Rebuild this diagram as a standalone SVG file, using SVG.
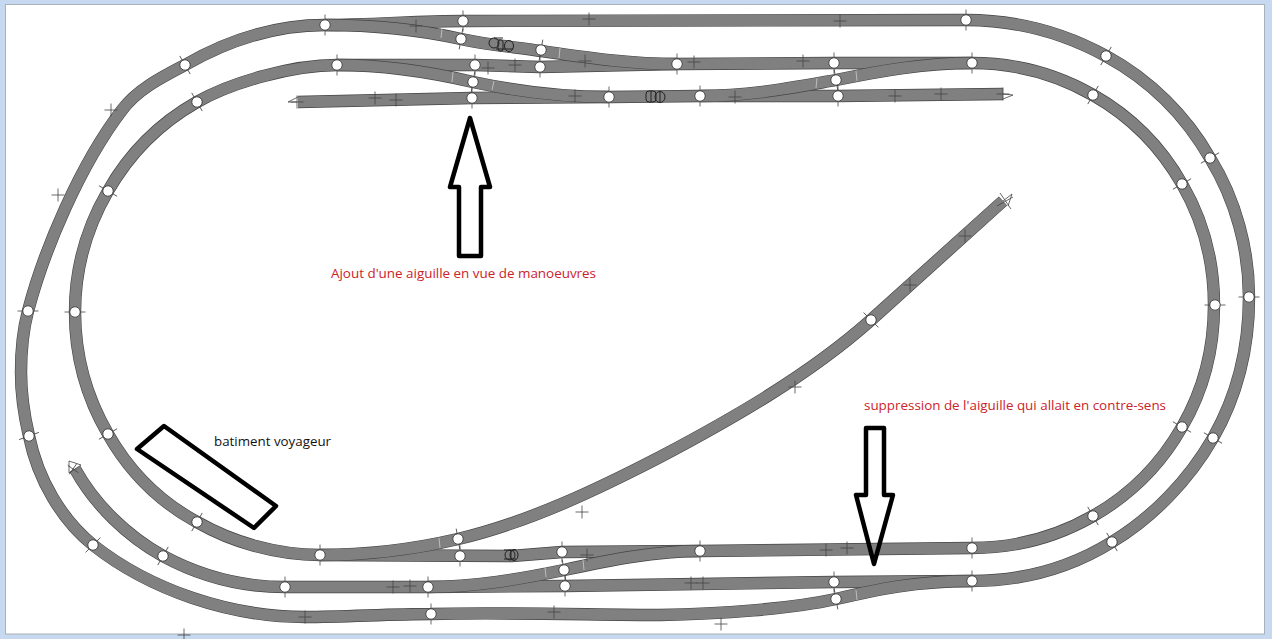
<svg xmlns="http://www.w3.org/2000/svg" xmlns:xlink="http://www.w3.org/1999/xlink" width="1272" height="639" viewBox="0 0 1272 639">
<style>
.o{fill:none;stroke:#444;stroke-width:12.400}
.t{fill:none;stroke:#808080;stroke-width:11.200}
.tick{stroke:#444;stroke-width:.8;fill:none}
.dot{fill:#fff;stroke:#333;stroke-width:.8}
.sw{stroke:#c4c4c4;stroke-width:.9}
.mk{fill:none;stroke:#000;stroke-width:4.500;stroke-linejoin:round}
.scr{fill:none;stroke:#222;stroke-width:1}
.lbl{font-family:"Open Sans","Noto Sans",sans-serif;font-size:12px}
.red{fill:#cc2229}
.blk{fill:#111}
</style>
<defs>
<g id="j"><path class="tick" d="M0-10.5V10.500"/><circle class="dot" r="5.200"/></g>
<path id="p" class="tick" d="M-6.500 0H6.500M0-6.500V6.500"/>
</defs>
<rect width="1272" height="639" fill="#c6d9f0"/>
<rect x="5.500" y="4.500" width="1259" height="629.500" fill="#fff" stroke="#a9b1bb"/>
<g id="connectors">
<g id="rails-main">
<path id="t1" class="o" d="M325,25C370,25 420,21 463,21L966,20C1016,20 1064,33 1106,56C1150,80 1186,116 1210,158C1236,200 1249,250 1249,297C1249,348 1237,396 1213,438C1189,480 1152,518 1112,542C1070,568 1022,581 972,581"/>
<path class="t" d="M325,25C370,25 420,21 463,21L966,20C1016,20 1064,33 1106,56C1150,80 1186,116 1210,158C1236,200 1249,250 1249,297C1249,348 1237,396 1213,438C1189,480 1152,518 1112,542C1070,568 1022,581 972,581"/>
<path id="t2" class="o" d="M337,65L475,65L540,67L677,64L834,63L972,63C1016,63 1058,75 1093,95C1130,116 1161,147 1182,184C1203,220 1214,262 1214,305C1214,349 1203,391 1182,427C1161,464 1130,495 1093,516C1058,536 1016,548 972,548L700,551L562,552L512,556L320,555C276,555 232,542 197,522C160,502 129,471 108,434C87,398 75,356 75,312C75,269 87,227 108,191C129,154 160,123 197,102C232,82 293,65 337,65"/>
<path class="t" d="M337,65L475,65L540,67L677,64L834,63L972,63C1016,63 1058,75 1093,95C1130,116 1161,147 1182,184C1203,220 1214,262 1214,305C1214,349 1203,391 1182,427C1161,464 1130,495 1093,516C1058,536 1016,548 972,548L700,551L562,552L512,556L320,555C276,555 232,542 197,522C160,502 129,471 108,434C87,398 75,356 75,312C75,269 87,227 108,191C129,154 160,123 197,102C232,82 293,65 337,65"/>
<path id="t3" class="o" d="M75,469C95,505 127,536 163,556C200,576 243,587 285,587L428,587L565,586L834,582L972,581"/>
<path class="t" d="M75,469C95,505 127,536 163,556C200,576 243,587 285,587L428,587L565,586L834,582L972,581"/>
<path id="t4" class="o" d="M972,581C915,581 875,590 836,599C790,609 720,614 660,615C600,615 500,612 431,614C390,614 345,617 305,617C230,617 150,590 93,545C62,520 38,480 29,436C24,415 21,392 21,372C21,350 23,330 28,311C44,250 80,165 122,110C137,90 160,78 185,65C225,42 270,25 325,25"/>
<path class="t" d="M972,581C915,581 875,590 836,599C790,609 720,614 660,615C600,615 500,612 431,614C390,614 345,617 305,617C230,617 150,590 93,545C62,520 38,480 29,436C24,415 21,392 21,372C21,350 23,330 28,311C44,250 80,165 122,110C137,90 160,78 185,65C225,42 270,25 325,25"/>
<path id="t5" class="o" d="M298,102L472,98L609,97L700,96L838,96L1003,94"/>
<path class="t" d="M298,102L472,98L609,97L700,96L838,96L1003,94"/>
</g>
<g id="rails-branches">
<path class="o" d="M325,25C380,25 425,31 461,39C488,45 515,47 541,51C590,58 630,64 677,64"/>
<path class="t" d="M325,25C380,25 425,31 461,39C488,45 515,47 541,51C590,58 630,64 677,64"/>
<path class="o" d="M337,65C385,65 430,72 473,82C520,92 565,97 609,97"/>
<path class="t" d="M337,65C385,65 430,72 473,82C520,92 565,97 609,97"/>
<path class="o" d="M700,96C750,96 790,88 836,80C880,71 925,63 972,63"/>
<path class="t" d="M700,96C750,96 790,88 836,80C880,71 925,63 972,63"/>
<path class="o" d="M320,555C370,555 415,549 458,539C530,522 600,488 660,457C730,420 808,376 871,320L1003,201"/>
<path class="t" d="M320,555C370,555 415,549 458,539C530,522 600,488 660,457C730,420 808,376 871,320L1003,201"/>
<path class="o" d="M428,587C475,587 520,579 564,570C610,560 655,551 700,551"/>
<path class="t" d="M428,587C475,587 520,579 564,570C610,560 655,551 700,551"/>
</g>
<g id="ends" class="tick">
<path d="M297,102L288,102L298,97"/>
<path d="M1003,94L1013,95L1003,99"/>
<path d="M1003,201L1012,194L1008,206"/>
<path d="M1000,193L1011,209M997,206L1013,197"/>
<path d="M69,473L81,465L69,461Z"/>
</g>
<g id="joints" class="sw">
<path d="M442,29L441,38M560,48L559,58M453,72L452,82M494,81L492,90M817,78L816,88M856,71L857,81M439,538L440,548M545,567L546,577M583,560L584,570M856,590L857,600"/>
</g>
</g>
<g id="nodes">
<use id="n1" href="#j" transform="translate(325,25)"/>
<use id="n2" href="#j" transform="translate(463,21)"/>
<use id="n3" href="#j" transform="translate(966,20)"/>
<use id="n4" href="#j" transform="translate(1106,56) rotate(30)"/>
<use id="n5" href="#j" transform="translate(1210,158) rotate(60)"/>
<use id="n6" href="#j" transform="translate(1249,297) rotate(90)"/>
<use id="n7" href="#j" transform="translate(1213,438) rotate(-60)"/>
<use id="n8" href="#j" transform="translate(1112,542) rotate(-30)"/>
<use id="n9" href="#j" transform="translate(972,581)"/>
<use id="n10" href="#j" transform="translate(834,582)"/>
<use id="n11" href="#j" transform="translate(836,599) rotate(-10)"/>
<use id="n12" href="#j" transform="translate(565,586)"/>
<use id="n13" href="#j" transform="translate(564,570) rotate(-10)"/>
<use id="n14" href="#j" transform="translate(562,552)"/>
<use id="n15" href="#j" transform="translate(700,551)"/>
<use id="n16" href="#j" transform="translate(972,548)"/>
<use id="n17" href="#j" transform="translate(1093,516) rotate(-30)"/>
<use id="n18" href="#j" transform="translate(1182,427) rotate(-60)"/>
<use id="n19" href="#j" transform="translate(1215,305) rotate(90)"/>
<use id="n20" href="#j" transform="translate(1182,184) rotate(60)"/>
<use id="n21" href="#j" transform="translate(1093,95) rotate(30)"/>
<use id="n22" href="#j" transform="translate(972,63)"/>
<use id="n23" href="#j" transform="translate(834,63)"/>
<use id="n24" href="#j" transform="translate(836,80) rotate(-10)"/>
<use id="n25" href="#j" transform="translate(838,96)"/>
<use id="n26" href="#j" transform="translate(700,96)"/>
<use id="n27" href="#j" transform="translate(609,97)"/>
<use id="n28" href="#j" transform="translate(472,98)"/>
<use id="n29" href="#j" transform="translate(473,82) rotate(10)"/>
<use id="n30" href="#j" transform="translate(475,65)"/>
<use id="n31" href="#j" transform="translate(461,39) rotate(10)"/>
<use id="n32" href="#j" transform="translate(541,50) rotate(10)"/>
<use id="n33" href="#j" transform="translate(540,67)"/>
<use id="n34" href="#j" transform="translate(677,64)"/>
<use id="n35" href="#j" transform="translate(337,65)"/>
<use id="n36" href="#j" transform="translate(197,102) rotate(-30)"/>
<use id="n37" href="#j" transform="translate(185,65) rotate(-30)"/>
<use id="n38" href="#j" transform="translate(108,191) rotate(-60)"/>
<use id="n39" href="#j" transform="translate(75,312) rotate(90)"/>
<use id="n40" href="#j" transform="translate(28,311) rotate(90)"/>
<use id="n41" href="#j" transform="translate(29,436) rotate(70)"/>
<use id="n42" href="#j" transform="translate(108,434) rotate(60)"/>
<use id="n43" href="#j" transform="translate(93,545) rotate(45)"/>
<use id="n44" href="#j" transform="translate(163,556) rotate(30)"/>
<use id="n45" href="#j" transform="translate(197,522) rotate(30)"/>
<use id="n46" href="#j" transform="translate(285,587)"/>
<use id="n47" href="#j" transform="translate(320,555)"/>
<use id="n48" href="#j" transform="translate(428,587)"/>
<use id="n49" href="#j" transform="translate(431,614)"/>
<use id="n50" href="#j" transform="translate(458,539) rotate(-10)"/>
<use id="n51" href="#j" transform="translate(460,556)"/>
<use id="n52" href="#j" transform="translate(871,320) rotate(-45)"/>
</g>
<g id="crosses">
<use href="#p" x="416" y="26"/><use href="#p" x="589" y="19"/><use href="#p" x="840" y="21"/>
<use href="#p" x="585" y="61"/><use href="#p" x="515" y="65"/><use href="#p" x="488" y="68"/>
<use href="#p" x="694" y="62"/><use href="#p" x="803" y="61"/><use href="#p" x="375" y="98"/>
<use href="#p" x="396" y="100"/><use href="#p" x="575" y="96"/><use href="#p" x="735" y="97"/>
<use href="#p" x="895" y="96"/><use href="#p" x="941" y="94"/><use href="#p" x="1003" y="94"/>
<use href="#p" x="297" y="102"/><use href="#p" x="111" y="110"/><use href="#p" x="58" y="195"/>
<use href="#p" x="965" y="236"/><use href="#p" x="910" y="285"/><use href="#p" x="795" y="387"/>
<use href="#p" x="582" y="512"/><use href="#p" x="587" y="555"/><use href="#p" x="826" y="550"/>
<use href="#p" x="847" y="548"/><use href="#p" x="393" y="587"/><use href="#p" x="410" y="586"/>
<use href="#p" x="691" y="583"/><use href="#p" x="703" y="583"/><use href="#p" x="305" y="617"/>
<use href="#p" x="554" y="612"/><use href="#p" x="721" y="624"/><use href="#p" x="184" y="635"/>
<use href="#p" x="73" y="469" transform="rotate(35 73 469)"/>
</g>
<g id="stock" class="scr">
<path d="M494,38H503M496,49H513"/><ellipse cx="494" cy="43" rx="5" ry="5"/><rect x="498" y="40" width="5" height="11" rx="2"/><ellipse cx="509" cy="46" rx="4.500" ry="5.500"/>
<rect x="646" y="91" width="10" height="11" rx="3"/><path d="M651,91V102M660,91V102"/><ellipse cx="660" cy="97" rx="5" ry="5.500"/>
<path d="M504,550H516M504,559H516M511,550V559"/><ellipse cx="510" cy="555" rx="5" ry="5"/><ellipse cx="514" cy="555" rx="4" ry="5.500"/>
</g>
<g id="building"><path class="mk" d="M164,426L276,506L254,528L137,449Z"/></g>
<g id="arrow-up"><path class="mk" d="M470,118L450,187H459V256H481V187H490Z"/></g>
<g id="arrow-down"><path class="mk" d="M866,428H884V495H893L874,564L856,495H866Z"/></g>
<text class="lbl red" x="331" y="278" textLength="265" lengthAdjust="spacingAndGlyphs">Ajout d'une aiguille en vue de manoeuvres</text>
<text class="lbl red" x="864" y="410" textLength="302" lengthAdjust="spacingAndGlyphs">suppression de l'aiguille qui allait en contre-sens</text>
<text class="lbl blk" x="214" y="446" textLength="117" lengthAdjust="spacingAndGlyphs">batiment voyageur</text>
</svg>
